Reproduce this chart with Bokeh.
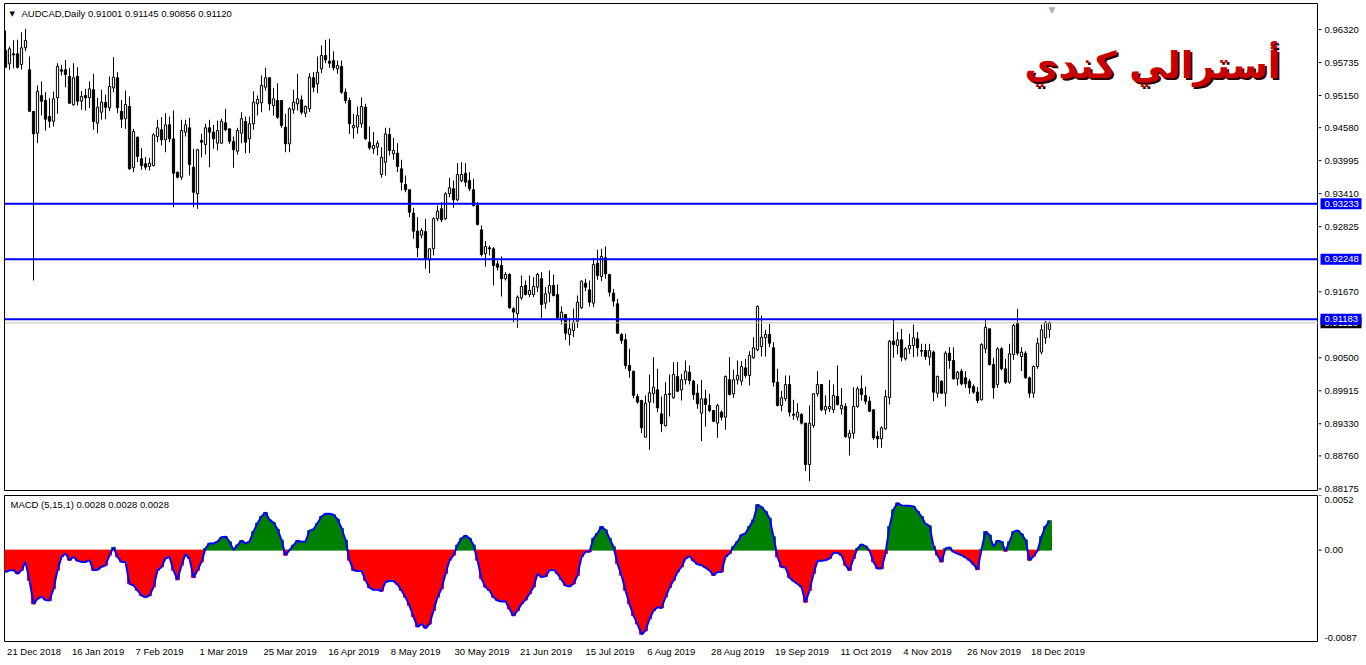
import numpy as np
from bokeh.plotting import figure
from bokeh.layouts import column, row
from bokeh.models import Range1d, FixedTicker, Span, Label, ColumnDataSource
from bokeh.core.properties import value
from bokeh.embed import file_html
from bokeh.resources import INLINE

# ---------------- data ----------------
open_ = [
0.95949,0.95713,0.95890,0.95890,0.95700,0.95996,0.95606,0.94867,0.94482,0.95151,
0.95062,0.94778,0.94695,0.95110,0.95606,0.95606,0.95488,0.94986,0.95488,0.95050,
0.95151,0.95110,0.95252,0.94660,0.94855,0.95026,0.94932,0.95287,0.95465,0.94872,
0.94738,0.94956,0.93869,0.94411,0.94028,0.93940,0.93892,0.93909,0.94424,0.94542,
0.94365,0.94631,0.94383,0.93791,0.93702,0.94500,0.94578,0.93880,0.93408,0.94353,
0.94282,0.94578,0.94500,0.94305,0.94305,0.94667,0.94560,0.94335,0.94163,0.94482,
0.94690,0.94383,0.94649,0.95003,0.95021,0.95298,0.95465,0.94973,0.95062,0.95062,
0.94590,0.94294,0.94897,0.95003,0.95074,0.94837,0.94915,0.95465,0.95358,0.95624,
0.95860,0.95759,0.95771,0.95624,0.95665,0.95209,0.95062,0.94578,0.94590,0.94649,
0.94943,0.94323,0.94206,0.94234,0.93750,0.93968,0.94460,0.94117,0.94128,0.93851,
0.93573,0.93479,0.93064,0.92745,0.92674,0.92739,0.92237,0.92432,0.92965,0.93142,
0.92965,0.93408,0.93496,0.93301,0.93644,0.93773,0.93644,0.93479,0.93200,0.92769,
0.92344,0.92450,0.92432,0.92166,0.92136,0.91901,0.91977,0.91369,0.91280,0.91564,
0.91782,0.91622,0.91622,0.91752,0.91901,0.91468,0.91646,0.91782,0.91622,0.91174,
0.91268,0.90913,0.90984,0.91149,0.91387,0.91823,0.91705,0.91469,0.92178,0.91942,
0.92273,0.91977,0.91646,0.91457,0.90913,0.90819,0.90364,0.90263,0.89814,0.89743,
0.89092,0.89714,0.89862,0.89932,0.89507,0.89295,0.89862,0.89791,0.90169,0.89932,
0.90110,0.90245,0.90086,0.89873,0.89518,0.89773,0.89655,0.89566,0.89341,0.89536,
0.89447,0.90110,0.89862,0.90110,0.90086,0.90322,0.90186,0.90500,0.90642,0.90700,
0.90854,0.90913,0.90677,0.90067,0.89655,0.89773,0.90027,0.89500,0.89447,0.89494,
0.89341,0.88608,0.89300,0.89862,0.90027,0.89578,0.89595,0.89578,0.89814,0.89595,
0.89636,0.89081,0.89163,0.89636,0.89950,0.89832,0.89731,0.89578,0.89105,0.89064,
0.89241,0.89791,0.90795,0.90718,0.90819,0.90482,0.90659,0.90718,0.90836,0.90629,
0.90629,0.90512,0.90600,0.89873,0.90086,0.89873,0.90582,0.90452,0.90128,0.90263,
0.90145,0.90086,0.89991,0.89891,0.89755,0.90660,0.91014,0.90381,0.90027,0.90659,
0.90305,0.90068,0.90559,0.91114,0.90523,0.90582,0.90145,0.89873,0.90346,0.90600,
0.90855,0.91001]

high = [
0.96303,0.96019,0.96130,0.96140,0.96273,0.96333,0.95842,0.94880,0.95328,0.95399,
0.95209,0.95110,0.95222,0.95723,0.95695,0.95783,0.95642,0.95723,0.95653,0.95227,
0.95269,0.95399,0.95535,0.95110,0.95252,0.95168,0.95488,0.95830,0.95564,0.95074,
0.95239,0.95133,0.94560,0.94423,0.94216,0.94057,0.94046,0.94482,0.94720,0.94766,
0.94837,0.94778,0.94885,0.93800,0.94720,0.94720,0.94755,0.94206,0.94206,0.94472,
0.94649,0.94720,0.94631,0.94707,0.94738,0.94915,0.94565,0.94424,0.94578,0.94855,
0.94778,0.94778,0.95227,0.95151,0.95505,0.95642,0.95470,0.95287,0.95369,0.95065,
0.94826,0.94943,0.95252,0.95535,0.95151,0.94974,0.95546,0.95564,0.95842,0.96037,
0.96138,0.96156,0.95936,0.95771,0.95771,0.95275,0.95115,0.94826,0.94956,0.95115,
0.95003,0.94601,0.94500,0.94353,0.94234,0.94578,0.94578,0.94401,0.94305,0.94011,
0.93732,0.93484,0.93159,0.92993,0.92800,0.92965,0.92440,0.92993,0.93200,0.93259,
0.93436,0.93691,0.93644,0.93951,0.93968,0.93951,0.93791,0.93674,0.93259,0.92846,
0.92568,0.92491,0.92462,0.92225,0.92296,0.92018,0.92000,0.91397,0.91605,0.91959,
0.91870,0.91959,0.91929,0.92006,0.92018,0.91752,0.92048,0.91977,0.91800,0.91410,
0.91270,0.91209,0.91369,0.91605,0.91870,0.91900,0.91870,0.92273,0.92415,0.92432,
0.92474,0.91989,0.91723,0.91546,0.90936,0.90926,0.90660,0.90270,0.89861,0.89755,
0.89832,0.90204,0.90511,0.90305,0.89814,0.90067,0.90204,0.90422,0.90422,0.90216,
0.90452,0.90364,0.90110,0.90027,0.90110,0.89932,0.89862,0.89570,0.89685,0.89566,
0.90186,0.90511,0.90287,0.90452,0.90440,0.90482,0.90617,0.90865,0.91427,0.91250,
0.90996,0.91103,0.90777,0.90305,0.89915,0.90186,0.90186,0.89755,0.89695,0.89518,
0.89345,0.89654,0.89873,0.90263,0.90030,0.89832,0.90110,0.90027,0.90364,0.89967,
0.89695,0.89223,0.89979,0.89991,0.90186,0.89991,0.89814,0.89580,0.89198,0.89282,
0.89932,0.90819,0.91173,0.90954,0.91014,0.90688,0.90925,0.91090,0.90954,0.90748,
0.90748,0.90748,0.90629,0.90186,0.90098,0.90617,0.90688,0.90688,0.90263,0.90305,
0.90263,0.90128,0.90027,0.89979,0.90759,0.91191,0.91016,0.90500,0.90688,0.90688,
0.90482,0.90748,0.91103,0.91369,0.90688,0.90617,0.90168,0.90364,0.90854,0.91090,
0.91149,0.91145]

low = [
0.95652,0.95606,0.95630,0.95630,0.95612,0.95936,0.94860,0.91871,0.94305,0.94796,
0.94530,0.94578,0.94601,0.94826,0.95505,0.95298,0.95003,0.94973,0.94973,0.94897,
0.94885,0.94932,0.94542,0.94482,0.94720,0.94731,0.94872,0.95209,0.94837,0.94578,
0.94560,0.93833,0.93791,0.93968,0.93833,0.93833,0.93821,0.93892,0.94323,0.94264,
0.94145,0.94323,0.93170,0.93680,0.93656,0.94424,0.93732,0.93170,0.93142,0.94057,
0.94105,0.93880,0.94206,0.94176,0.94300,0.94518,0.94294,0.93869,0.94105,0.94305,
0.94128,0.94128,0.94542,0.94796,0.94855,0.95239,0.94885,0.94796,0.94738,0.94578,
0.94145,0.94145,0.94826,0.94885,0.94814,0.94766,0.94855,0.95209,0.95192,0.95546,
0.95723,0.95642,0.95594,0.95535,0.95181,0.95009,0.94471,0.94383,0.94472,0.94578,
0.94365,0.94188,0.94117,0.94087,0.93691,0.93732,0.94087,0.94011,0.93791,0.93466,
0.93436,0.92993,0.92610,0.92284,0.92620,0.92078,0.92000,0.92314,0.92922,0.92904,
0.92947,0.93348,0.93159,0.93276,0.93614,0.93537,0.93454,0.93183,0.92846,0.92296,
0.92119,0.92314,0.91782,0.92048,0.91587,0.91871,0.91369,0.91132,0.91032,0.91528,
0.91605,0.91575,0.91575,0.91664,0.91209,0.91369,0.91486,0.91587,0.91174,0.91090,
0.90819,0.90719,0.90866,0.91032,0.91369,0.91681,0.91410,0.91397,0.91883,0.91859,
0.91901,0.91587,0.91410,0.90934,0.90748,0.90305,0.90145,0.89779,0.89685,0.89163,
0.89090,0.88869,0.89695,0.89535,0.89181,0.89282,0.89460,0.89773,0.89891,0.89743,
0.90027,0.90027,0.89755,0.89596,0.89022,0.89282,0.89536,0.89358,0.89081,0.89388,
0.89224,0.89832,0.89791,0.90027,0.90009,0.90145,0.90009,0.90482,0.90617,0.90523,
0.90523,0.90688,0.89991,0.89637,0.89553,0.89731,0.89459,0.89400,0.89388,0.89317,
0.88490,0.88312,0.89259,0.89814,0.89553,0.89495,0.89536,0.89518,0.89654,0.89495,
0.89081,0.88768,0.89064,0.89613,0.89743,0.89672,0.89536,0.89046,0.88904,0.88904,
0.89223,0.89672,0.90500,0.90559,0.90440,0.90452,0.90571,0.90511,0.90523,0.90523,
0.90464,0.90364,0.89731,0.89791,0.89862,0.89637,0.90305,0.90110,0.90009,0.90009,
0.89968,0.89862,0.89862,0.89695,0.89743,0.90582,0.90364,0.89773,0.89968,0.90275,
0.90039,0.90039,0.90464,0.90541,0.90263,0.90128,0.89791,0.89791,0.90305,0.90559,
0.90748,0.90856]

close = [
0.95652,0.95979,0.95870,0.95650,0.95996,0.96126,0.94872,0.94472,0.95227,0.95050,
0.94731,0.94695,0.95092,0.95670,0.95582,0.95523,0.95014,0.95465,0.95050,0.95133,
0.95110,0.95269,0.94690,0.94943,0.95032,0.94943,0.95310,0.95476,0.94932,0.94731,
0.94991,0.93851,0.94512,0.94069,0.93909,0.93880,0.93951,0.94454,0.94578,0.94365,
0.94631,0.94383,0.93773,0.93702,0.94530,0.94631,0.93927,0.93436,0.94188,0.94323,
0.94578,0.94500,0.94383,0.94530,0.94695,0.94542,0.94340,0.94188,0.94530,0.94738,
0.94323,0.94649,0.95032,0.95080,0.95328,0.95465,0.95003,0.95092,0.94766,0.94619,
0.94294,0.94915,0.95032,0.95092,0.94855,0.94956,0.95476,0.95298,0.95564,0.95860,
0.95783,0.95723,0.95642,0.95683,0.95209,0.95062,0.94649,0.94619,0.94796,0.94956,
0.94383,0.94223,0.94264,0.94305,0.94057,0.94471,0.94176,0.94176,0.93892,0.93614,
0.93479,0.93082,0.92745,0.92450,0.92757,0.92255,0.92432,0.92965,0.93100,0.92947,
0.93408,0.93514,0.93301,0.93750,0.93750,0.93614,0.93496,0.93200,0.92863,0.92332,
0.92474,0.92432,0.92136,0.92106,0.91901,0.91977,0.91387,0.91310,0.91575,0.91764,
0.91622,0.91693,0.91764,0.91977,0.91445,0.91635,0.91782,0.91605,0.91209,0.91309,
0.90936,0.91014,0.91131,0.91486,0.91859,0.91752,0.91486,0.92154,0.91959,0.92296,
0.91989,0.91664,0.91504,0.90936,0.90807,0.90364,0.90275,0.89832,0.89714,0.89258,
0.89695,0.89879,0.89979,0.89614,0.89330,0.89850,0.89850,0.90204,0.89909,0.90110,
0.90263,0.90098,0.89850,0.89685,0.89773,0.89672,0.89566,0.89376,0.89655,0.89447,
0.90169,0.89850,0.90110,0.90186,0.90346,0.90186,0.90541,0.90677,0.91410,0.90865,
0.90913,0.90759,0.90067,0.89655,0.89791,0.90027,0.89536,0.89482,0.89536,0.89341,
0.88608,0.89341,0.89862,0.90027,0.89578,0.89636,0.89636,0.89832,0.89672,0.89655,
0.89103,0.89163,0.89636,0.89950,0.89850,0.89731,0.89553,0.89081,0.89064,0.89259,
0.89814,0.90795,0.90736,0.90819,0.90511,0.90659,0.90718,0.90854,0.90677,0.90617,
0.90523,0.90629,0.89891,0.90169,0.89873,0.90582,0.90452,0.90128,0.90245,0.90039,
0.90039,0.89968,0.89891,0.89743,0.90736,0.91043,0.90381,0.89968,0.90659,0.90305,
0.90068,0.90571,0.91073,0.90582,0.90600,0.90145,0.89873,0.90346,0.90759,0.90996,
0.91131,0.91120]

macd = [
-0.00208,-0.00192,-0.00192,-0.00224,-0.00192,-0.00112,-0.00288,-0.00512,-0.00464,-0.00442,
-0.00474,-0.00480,-0.00368,-0.00192,-0.00064,-0.00032,-0.00096,-0.00064,-0.00102,-0.00112,
-0.00112,-0.00096,-0.00192,-0.00186,-0.00160,-0.00144,-0.00048,0.00026,-0.00064,-0.00112,
-0.00112,-0.00320,-0.00336,-0.00384,-0.00432,-0.00448,-0.00432,-0.00352,-0.00192,-0.00160,
-0.00080,-0.00064,-0.00192,-0.00282,-0.00144,-0.00038,-0.00080,-0.00262,-0.00192,-0.00112,
0.00016,0.00064,0.00064,0.00080,0.00122,0.00128,0.00080,0.00002,0.00048,0.00090,
0.00064,0.00080,0.00176,0.00256,0.00320,0.00358,0.00288,0.00262,0.00198,0.00096,
-0.00048,0.00000,0.00048,0.00090,0.00080,0.00080,0.00186,0.00198,0.00256,0.00320,
0.00346,0.00346,0.00336,0.00294,0.00208,0.00096,-0.00096,-0.00192,-0.00198,-0.00198,
-0.00288,-0.00358,-0.00378,-0.00378,-0.00390,-0.00304,-0.00294,-0.00294,-0.00326,-0.00384,
-0.00448,-0.00528,-0.00634,-0.00730,-0.00704,-0.00742,-0.00704,-0.00576,-0.00448,-0.00368,
-0.00224,-0.00096,-0.00048,0.00048,0.00112,0.00138,0.00112,0.00048,-0.00096,-0.00272,
-0.00352,-0.00384,-0.00448,-0.00480,-0.00490,-0.00486,-0.00560,-0.00624,-0.00576,-0.00512,
-0.00474,-0.00416,-0.00352,-0.00224,-0.00256,-0.00250,-0.00192,-0.00186,-0.00224,-0.00282,
-0.00336,-0.00346,-0.00320,-0.00240,-0.00064,-0.00016,-0.00016,0.00112,0.00160,0.00224,
0.00192,0.00112,0.00032,-0.00128,-0.00240,-0.00384,-0.00512,-0.00624,-0.00704,-0.00800,
-0.00768,-0.00656,-0.00576,-0.00544,-0.00550,-0.00448,-0.00358,-0.00288,-0.00208,-0.00160,
-0.00080,-0.00058,-0.00102,-0.00134,-0.00144,-0.00166,-0.00192,-0.00240,-0.00208,-0.00208,
-0.00064,-0.00032,0.00032,0.00080,0.00144,0.00160,0.00224,0.00288,0.00432,0.00410,
0.00368,0.00304,0.00128,-0.00064,-0.00160,-0.00166,-0.00262,-0.00294,-0.00320,-0.00352,
-0.00496,-0.00384,-0.00224,-0.00102,-0.00102,-0.00096,-0.00080,-0.00026,-0.00026,-0.00048,
-0.00144,-0.00192,-0.00080,0.00016,0.00054,0.00038,-0.00003,-0.00112,-0.00176,-0.00176,
-0.00032,0.00224,0.00384,0.00448,0.00426,0.00422,0.00422,0.00416,0.00368,0.00320,
0.00250,0.00230,0.00038,-0.00048,-0.00112,0.00016,0.00026,-0.00016,-0.00032,-0.00048,
-0.00070,-0.00096,-0.00134,-0.00186,0.00006,0.00176,0.00144,0.00032,0.00090,0.00080,
-0.00010,0.00080,0.00176,0.00186,0.00154,0.00096,-0.00096,-0.00058,-0.00006,0.00128,
0.00224,0.00280]

date_labels = ["21 Dec 2018", "16 Jan 2019", "7 Feb 2019", "1 Mar 2019", "25 Mar 2019",
               "16 Apr 2019", "8 May 2019", "30 May 2019", "21 Jun 2019", "15 Jul 2019",
               "6 Aug 2019", "28 Aug 2019", "19 Sep 2019", "11 Oct 2019", "4 Nov 2019",
               "26 Nov 2019", "18 Dec 2019"]
date_bars = [0, 16, 32, 48, 64, 80, 96, 112, 128, 144, 160, 176, 192, 208, 224, 240, 256]

price_ticks = [0.96320, 0.95735, 0.95150, 0.94580, 0.93995, 0.93410, 0.92825,
               0.91670, 0.90500, 0.89915, 0.89330, 0.88760, 0.88175]
levels = [0.93233, 0.92248, 0.91183]
bid = 0.91120
macd_max, macd_zero, macd_min = 0.0052, 0.0, -0.0087

title_text = "AUDCAD,Daily  0.91001 0.91145 0.90856 0.91120"
macd_title = "MACD (5,15,1) 0.0028 0.0028 0.0028"
arabic_text = "أسترالي كندي"

# ---------------- build ----------------
FONT = "Liberation Sans"
FS = "9.5px"
AXW = 46          # width of the price-scale strip

n = min(len(open_), len(high), len(low), len(close), len(macd))
x = np.arange(n)
o = np.array(open_[:n]); h = np.array(high[:n]); l = np.array(low[:n]); c = np.array(close[:n])
up = c >= o
src_up = ColumnDataSource(dict(x=x[up], top=c[up], bottom=o[up]))
src_dn = ColumnDataSource(dict(x=x[~up], top=o[~up], bottom=c[~up]))

PX = 0.0001773                      # price per pixel of the main panel
xr = Range1d(-0.25, 328.25)
yr = Range1d(0.88147, 0.96782)      # main panel, 487 px tall
yr_axis = Range1d(0.88147 - 4 * PX, 0.96782)   # price strip, 4 px taller (room for last label)


def plain(fig):
    fig.grid.grid_line_color = None
    fig.background_fill_color = "white"
    fig.border_fill_color = "white"
    return fig


# ---- main price panel ----
p1 = plain(figure(frame_width=1314, frame_height=487, x_range=xr, y_range=yr,
                  x_axis_location=None, y_axis_location=None,
                  toolbar_location=None, output_backend="svg",
                  min_border_left=4, min_border_right=0, min_border_top=3, min_border_bottom=1))
p1.outline_line_color = "black"

p1.add_layout(Span(location=bid, dimension="width", line_color="#C0C0C0", line_width=1))
for lv in levels:
    p1.add_layout(Span(location=lv, dimension="width", line_color="#0000FF", line_width=2))

p1.segment(x0=x, y0=l, x1=x, y1=h, line_color="black", line_width=1)
p1.vbar(x="x", top="top", bottom="bottom", width=0.55, source=src_up,
        fill_color="white", line_color="black", line_width=1)
p1.vbar(x="x", top="top", bottom="bottom", width=0.55, source=src_dn,
        fill_color="black", line_color="black", line_width=1)

p1.add_layout(Label(x=xr.start, y=yr.end, x_offset=5, y_offset=-10, text="▼", text_align="left",
                    text_baseline="middle", text_color="black", text_font="DejaVu Sans",
                    text_font_size="7px"))
p1.add_layout(Label(x=xr.start, y=yr.end, x_offset=17, y_offset=-10, text=title_text,
                    text_align="left", text_baseline="middle", text_color="black",
                    text_font=FONT, text_font_size=FS))
# chart-shift marker
p1.add_layout(Label(x=xr.start, y=yr.end, x_offset=1044, y_offset=-1, text="▼", text_align="left",
                    text_baseline="top", text_color="#B0B0B0", text_font="DejaVu Sans",
                    text_font_size="9px"))
p1.add_layout(Label(x=xr.end, y=yr.end, x_offset=-36, y_offset=-64, text=arabic_text,
                    text_align="right", text_baseline="middle", text_color="#300000",
                    text_font="DejaVu Sans", text_font_style="bold", text_font_size="37px"))
p1.add_layout(Label(x=xr.end, y=yr.end, x_offset=-38, y_offset=-62, text=arabic_text,
                    text_align="right", text_baseline="middle", text_color="#C80000",
                    text_font="DejaVu Sans", text_font_style="bold", text_font_size="37px"))

# ---- price scale strip (right of the main panel) ----
a1 = plain(figure(frame_width=AXW, frame_height=491, x_range=Range1d(0, AXW), y_range=yr_axis,
                  x_axis_location=None, y_axis_location=None,
                  toolbar_location=None, output_backend="svg",
                  min_border_left=0, min_border_right=0, min_border_top=3, min_border_bottom=0))
a1.outline_line_color = None
nt = len(price_ticks)
a1.segment(x0=np.zeros(nt), x1=np.full(nt, 3.0), y0=price_ticks, y1=price_ticks,
           line_color="black", line_width=1)
a1.text(x=np.full(nt, 6.0), y=price_ticks, text=[f"{t:.5f}" for t in price_ticks],
        text_align="left", text_baseline="middle", text_color="black",
        text_font=value(FONT), text_font_size=FS)
# current bid box (black) and level boxes (blue)
a1.rect(x=[22.5], y=[bid], width=41, height=11, height_units="screen",
        fill_color="black", line_color=None)
a1.text(x=[6.0], y=[bid], text=[f"{bid:.5f}"], text_align="left", text_baseline="middle",
        text_color="white", text_font=value(FONT), text_font_size=FS)
a1.rect(x=np.full(len(levels), 22.5), y=levels, width=41, height=11, height_units="screen",
        fill_color="#0000FF", line_color=None)
a1.text(x=np.full(len(levels), 6.0), y=levels, text=[f"{lv:.5f}" for lv in levels],
        text_align="left", text_baseline="middle", text_color="white",
        text_font=value(FONT), text_font_size=FS)

# ---- MACD panel ----
mr = Range1d(macd_min, macd_max)
p2 = plain(figure(frame_width=1314, frame_height=146, x_range=xr, y_range=mr,
                  y_axis_location=None, toolbar_location=None, output_backend="svg",
                  min_border_left=4, min_border_right=0, min_border_top=1, min_border_bottom=0))
p2.outline_line_color = "black"

mv = np.array(macd[:n])
cols = np.where(mv >= 0, "#008000", "#FF0000")
p2.vbar(x=x, top=mv, bottom=0, width=1.0, fill_color=cols, line_color=cols, line_width=1)
p2.line(x, mv, line_color="#0000FF", line_width=2)

xt = [b + len(s) * 0.6125 + 0.4 for b, s in zip(date_bars, date_labels)]
x2 = p2.xaxis[0]
x2.ticker = FixedTicker(ticks=xt, minor_ticks=[])
x2.major_label_overrides = {t: s for t, s in zip(xt, date_labels)}
x2.major_tick_line_color = None
x2.minor_tick_line_color = None
x2.major_tick_out = 0
x2.major_tick_in = 0
x2.minor_tick_out = 0
x2.axis_line_color = None
x2.major_label_standoff = 4
x2.major_label_text_font = FONT
x2.major_label_text_font_size = FS
x2.major_label_text_color = "black"

p2.add_layout(Label(x=xr.start, y=mr.end, x_offset=6, y_offset=-9, text=macd_title,
                    text_align="left", text_baseline="middle", text_color="black",
                    text_font=FONT, text_font_size=FS))

# ---- MACD scale strip ----
a2 = plain(figure(frame_width=AXW, frame_height=146, x_range=Range1d(0, AXW), y_range=mr,
                  x_axis_location=None, y_axis_location=None,
                  toolbar_location=None, output_backend="svg",
                  min_border_left=0, min_border_right=0, min_border_top=1, min_border_bottom=0))
a2.outline_line_color = None
mt = [macd_max, macd_zero, macd_min]
a2.segment(x0=np.zeros(3), x1=np.full(3, 3.0), y0=mt, y1=mt, line_color="black", line_width=1)
a2.text(x=[6.0], y=[macd_max], text=[f"{macd_max:.4f}"], text_align="left", text_baseline="top",
        y_offset=1, text_color="black", text_font=value(FONT), text_font_size=FS)
a2.text(x=[6.0], y=[macd_zero], text=["0.00"], text_align="left", text_baseline="middle",
        text_color="black", text_font=value(FONT), text_font_size=FS)
a2.text(x=[6.0], y=[macd_min], text=[f"{macd_min:.4f}"], text_align="left", text_baseline="bottom",
        y_offset=-1, text_color="black", text_font=value(FONT), text_font_size=FS)

layout = column(row(p1, a1), row(p2, a2))
open("out.html", "w").write(file_html(layout, INLINE, title="AUDCAD,Daily"))
